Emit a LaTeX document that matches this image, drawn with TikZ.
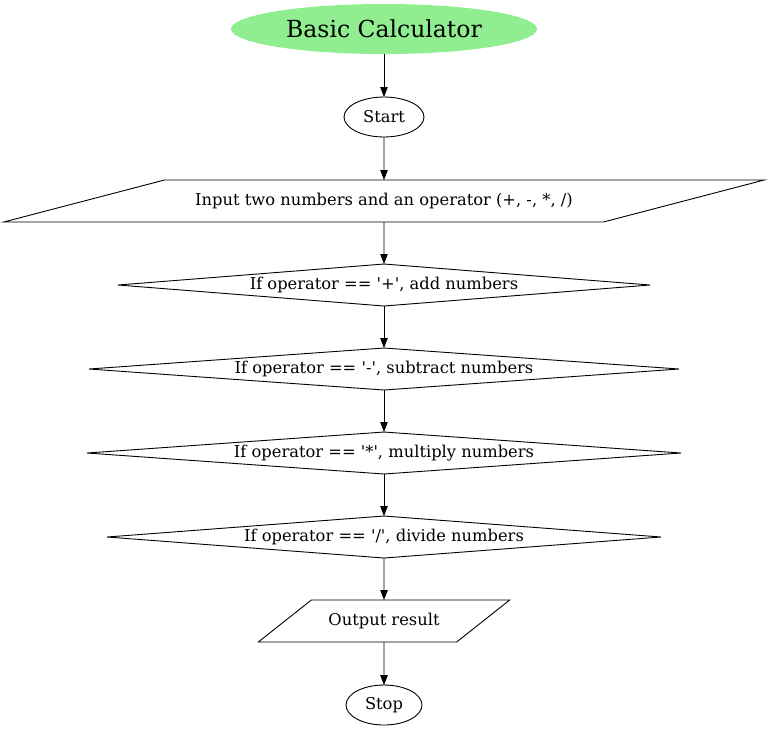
\documentclass[tikz,border=0pt]{standalone}
\usepackage{fontspec}
\setmainfont{DejaVu Serif}
\definecolor{colorTitle}{HTML}{90EE90}
\usetikzlibrary{arrows.meta, positioning, shapes.geometric}
\tikzset{
  flow/.style={draw, line width=0.9pt, inner sep=0pt, outer sep=0pt, font=\fontsize{16.3}{18}\selectfont},
  terminal/.style={flow, ellipse, minimum width=80pt, minimum height=40pt},
  decision/.style={flow, diamond, aspect=13, text height=11pt, text depth=3pt, minimum height=42pt},
  inout/.style={flow, trapezium, trapezium stretches=true, text height=12pt, text depth=4pt, inner ysep=13pt, minimum height=42pt},
  link/.style={-{Triangle[length=10pt,width=7.5pt]}, line width=0.9pt}
}

\begin{document}
\begin{tikzpicture}[x=1pt, y=-1pt]
\useasboundingbox (0,0) rectangle (768,731);
\node[terminal, draw=none, fill=colorTitle, minimum width=306pt, minimum height=50pt, font=\fontsize{23.5}{26}\selectfont] (title) at (384,29) {Basic Calculator};
\node[terminal, below=43pt of title] (start) {Start};
\node[inout, trapezium left angle=16.9, trapezium right angle=163.1, minimum width=762pt, below=43pt of start] (input) {Input two numbers and an operator (+, -, *, /)};
\node[decision, minimum width=532pt, below=42pt of input] (opAdd) {If operator == \textquotesingle+\textquotesingle, add numbers};
\node[decision, minimum width=590pt, below=42pt of opAdd] (opSub) {If operator == \textquotesingle-\textquotesingle, subtract numbers};
\node[decision, minimum width=594pt, below=42pt of opSub] (opMul) {If operator == \textquotesingle*\textquotesingle, multiply numbers};
\node[decision, minimum width=554pt, below=42pt of opMul] (opDiv) {If operator == \textquotesingle/\textquotesingle, divide numbers};
\node[inout, trapezium left angle=46, trapezium right angle=134, minimum width=252pt, below=42pt of opDiv] (output) {Output result};
\node[terminal, minimum width=76pt, below=43pt of output] (stop) {Stop};
\draw[link] (title) -- (start);
\draw[link] (start) -- (input);
\draw[link] (input) -- (opAdd);
\draw[link] (opAdd) -- (opSub);
\draw[link] (opSub) -- (opMul);
\draw[link] (opMul) -- (opDiv);
\draw[link] (opDiv) -- (output);
\draw[link] (output) -- (stop);
\end{tikzpicture}
\end{document}
